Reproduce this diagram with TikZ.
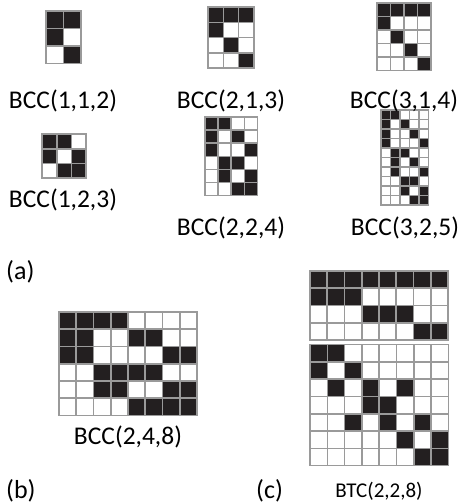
\documentclass[tikz,border=0pt]{standalone}
\usepackage{fontspec}
\setmainfont{Carlito}
\usepackage{tikz}
\usetikzlibrary{positioning}
\definecolor{cellblack}{HTML}{231F20}
\definecolor{cellline}{HTML}{9A9A9A}
% #1,#2 top left corner, #3 cell size, #4 columns, #5 rows, #6 black cells (col/row)
\newcommand{\CodeGrid}[6]{%
  \begin{scope}[shift={(#1,#2)},x=#3pt,y=-#3pt]
    \foreach \c/\r in {#6}
      \fill[cellblack] (\c-1,\r-1) rectangle (\c,\r);
    \foreach \i in {0,...,#4}
      \draw[gridline] (\i,0) -- (\i,#5);
    \foreach \j in {0,...,#5}
      \draw[gridline] (0,\j) -- (#4,\j);
  \end{scope}}

\begin{document}
\begin{tikzpicture}[x=1pt,y=-1pt,
    gridline/.style={draw=cellline,line width=1.6pt,line cap=rect},
    codelabel/.style={anchor=base,inner sep=0pt,font=\fontsize{25.5}{30}\selectfont},
    partlabel/.style={anchor=base west,inner sep=0pt,font=\fontsize{26}{31}\selectfont}]
  \useasboundingbox (0,0) rectangle (462,504);

  % (a)
  \CodeGrid{46}{11}{17.5}{2}{3}{1/1,2/1,1/2,2/3}
  \CodeGrid{208}{7}{15.3}{3}{4}{1/1,2/1,3/1,1/2,2/3,3/4}
  \CodeGrid{377}{3}{13.5}{4}{5}{1/1,2/1,3/1,4/1,1/2,2/3,3/4,4/5}
  \CodeGrid{42}{134}{14.7}{3}{3}{1/1,2/1,1/2,3/2,2/3,3/3}
  \CodeGrid{205}{117}{13.1}{4}{6}{1/1,2/1,1/2,3/2,1/3,4/3,2/4,3/4,2/5,4/5,3/6,4/6}
  \CodeGrid{381}{110}{9.5}{5}{10}{1/1,2/1,1/2,3/2,1/3,4/3,1/4,5/4,2/5,3/5,2/6,4/6,2/7,5/7,3/8,4/8,3/9,5/9,4/10,5/10}

  \node[codelabel] (l112) at (63,108) {BCC(1,1,2)};
  \node[codelabel] (l213) at (231,108) {BCC(2,1,3)};
  \node[codelabel] (l314) at (404,108) {BCC(3,1,4)};
  \node[codelabel] (l123) at (63,207) {BCC(1,2,3)};
  \node[codelabel] (l224) at (231,235) {BCC(2,2,4)};
  \node[codelabel] (l325) at (405,235) {BCC(3,2,5)};
  \node[partlabel] (pa) at (6,279) {(a)};

  % (b)
  \CodeGrid{59}{312}{17.25}{8}{6}{1/1,2/1,3/1,4/1,1/2,2/2,5/2,6/2,1/3,2/3,7/3,8/3,3/4,4/4,5/4,6/4,3/5,4/5,7/5,8/5,5/6,6/6,7/6,8/6}
  \node[codelabel] (l248) at (128,444) {BCC(2,4,8)};
  \node[partlabel] (pb) at (6,498) {(b)};

  % (c)
  \CodeGrid{310}{271}{17.25}{8}{4}{1/1,2/1,3/1,4/1,5/1,6/1,7/1,8/1,1/2,2/2,3/2,4/3,5/3,6/3,7/4,8/4}
  \CodeGrid{310}{344.5}{17.3}{8}{7}{1/1,2/1,1/2,3/2,2/3,4/3,6/3,4/4,5/4,3/5,5/5,7/5,6/6,8/6,7/7,8/7}
  \node[codelabel,font=\fontsize{21}{25}\selectfont] (btc) at (379,497) {BTC(2,2,8)};
  \node[partlabel] (pc) at (256,498) {(c)};
\end{tikzpicture}
\end{document}
